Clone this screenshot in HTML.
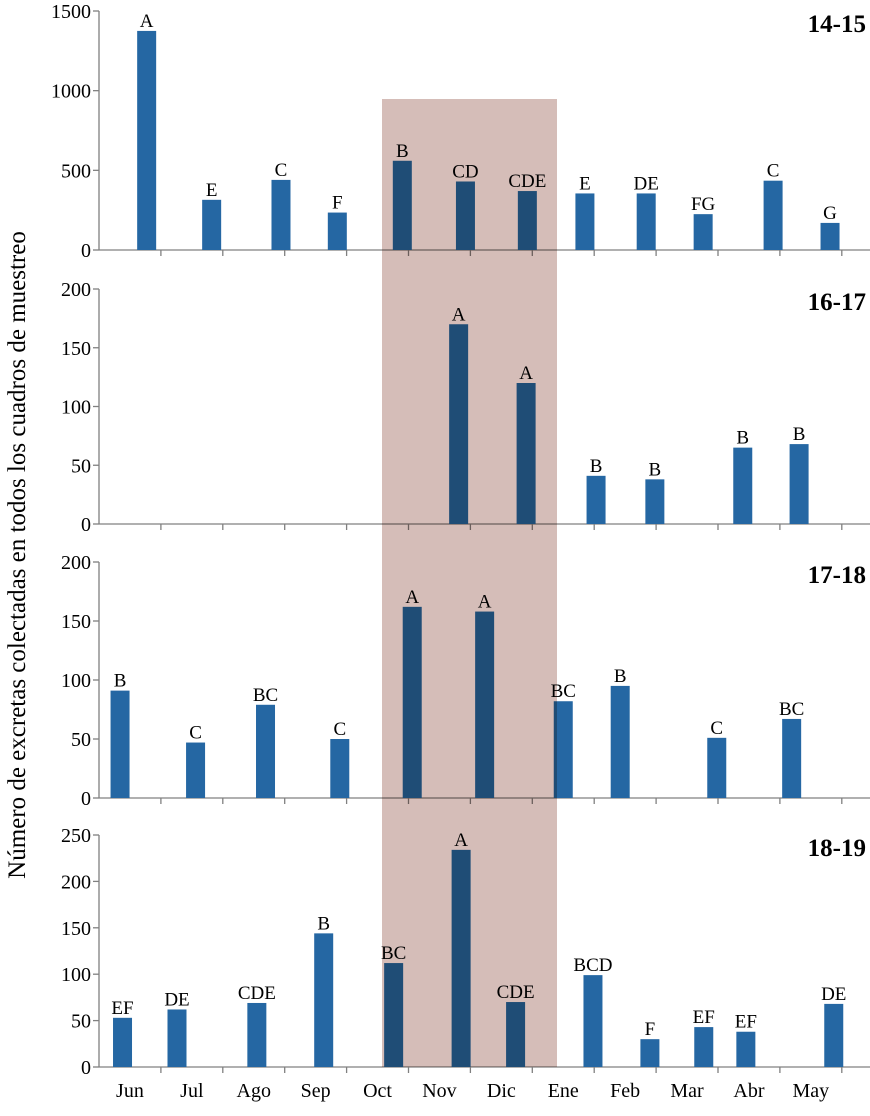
<!DOCTYPE html>
<html><head><meta charset="utf-8"><style>
html,body{margin:0;padding:0;background:#fff}
svg text{font-family:"Liberation Serif",serif;fill:#000}
</style></head><body>
<svg id="chart" width="870" height="1111" viewBox="0 0 870 1111" xmlns="http://www.w3.org/2000/svg">
<text x="0" y="0" transform="translate(25,555) rotate(-90)" text-anchor="middle" font-size="25">Número de excretas colectadas en todos los cuadros de muestreo</text>
<g id="g"></g>
<rect x="382" y="99" width="175" height="968" fill="#d5bdb8" style="mix-blend-mode:multiply"></rect>
</svg>
<script>
const months=["Jun","Jul","Ago","Sep","Oct","Nov","Dic","Ene","Feb","Mar","Abr","May"];
const titles=["14-15","16-17","17-18","18-19"];
const maxY=[1500,200,200,250];
const stepY=[500,50,50,50];
const pos1=[0.77,1.82,2.94,3.85,4.90,5.92,6.92,7.85,8.84,9.76,10.89,11.81];
const val1=[1375,315,440,235,560,430,370,355,355,225,435,170];
const let1=["A","E","C","F","B","CD","CDE","E","DE","FG","C","G"];
const pos2=[5.81,6.90,8.03,8.98,10.40,11.31];
const val2=[170,120,41,38,65,68];
const let2=["A","A","B","B","B","B"];
const pos3=[0.34,1.56,2.69,3.89,5.06,6.23,7.50,8.42,9.98,11.19];
const val3=[91,47,79,50,162,158,82,95,51,67];
const let3=["B","C","BC","C","A","A","BC","B","C","BC"];
const pos4=[0.38,1.26,2.55,3.63,4.76,5.85,6.73,7.98,8.90,9.77,10.45,11.87];
const val4=[53,62,69,144,112,234,70,99,30,43,38,68];
const let4=["EF","DE","CDE","B","BC","A","CDE","BCD","F","EF","EF","DE"];
const P=[[pos1,val1,let1],[pos2,val2,let2],[pos3,val3,let3],[pos4,val4,let4]];
const tops=[11,289,562,835], bots=[250,524,798,1067];
const x0=99, mw=61.9, bw=19;
const g=document.getElementById('g');
const NS="http://www.w3.org/2000/svg";
function mk(t,a,txt){const e=document.createElementNS(NS,t);for(const k in a)e.setAttribute(k,a[k]);if(txt!==undefined)e.textContent=txt;g.appendChild(e);return e;}
const xs=m=>x0+m*mw;
P.forEach((p,i)=>{
  const t=tops[i],b=bots[i];
  const ys=v=>b-(v/maxY[i])*(b-t);
  let e=mk('line',{x1:x0,y1:t,x2:x0,y2:b,stroke:'#808080','stroke-width':1.3});
  
  
  e=mk('line',{x1:x0,y1:b,x2:870,y2:b,stroke:'#808080','stroke-width':1.3});
  
  
  for(let v=0;v<=maxY[i];v+=stepY[i]){
    e=mk('line',{x1:x0-6,y1:ys(v),x2:x0,y2:ys(v),stroke:'#808080','stroke-width':1.3});
    
    
    e=mk('text',{x:x0-8,y:ys(v)+7,'text-anchor':'end','font-size':20},String(v));
    
    
  }
  for(let m=1;m<=12;m++){
    e=mk('line',{x1:xs(m),y1:b,x2:xs(m),y2:b+6,stroke:'#808080','stroke-width':1.3});
    
    
  }
  e=mk('text',{x:866,y:t+21,'text-anchor':'end','font-size':25,'font-weight':'bold'},titles[i]);
  
  
  p[0].forEach((m,j)=>{
    const cx=xs(m),y=ys(p[1][j]);
    e=mk('rect',{x:cx-bw/2,y:y,width:bw,height:b-y,fill:'#2567a3'});
    
    
    e=mk('text',{x:cx,y:y-4,'text-anchor':'middle','font-size':19},p[2][j]);
    
    
  });
});
months.forEach((mn,k)=>{
  const e=mk('text',{x:xs(k+0.5),y:1097,'text-anchor':'middle','font-size':20},mn);
  
  
});
</script>
</body></html>
